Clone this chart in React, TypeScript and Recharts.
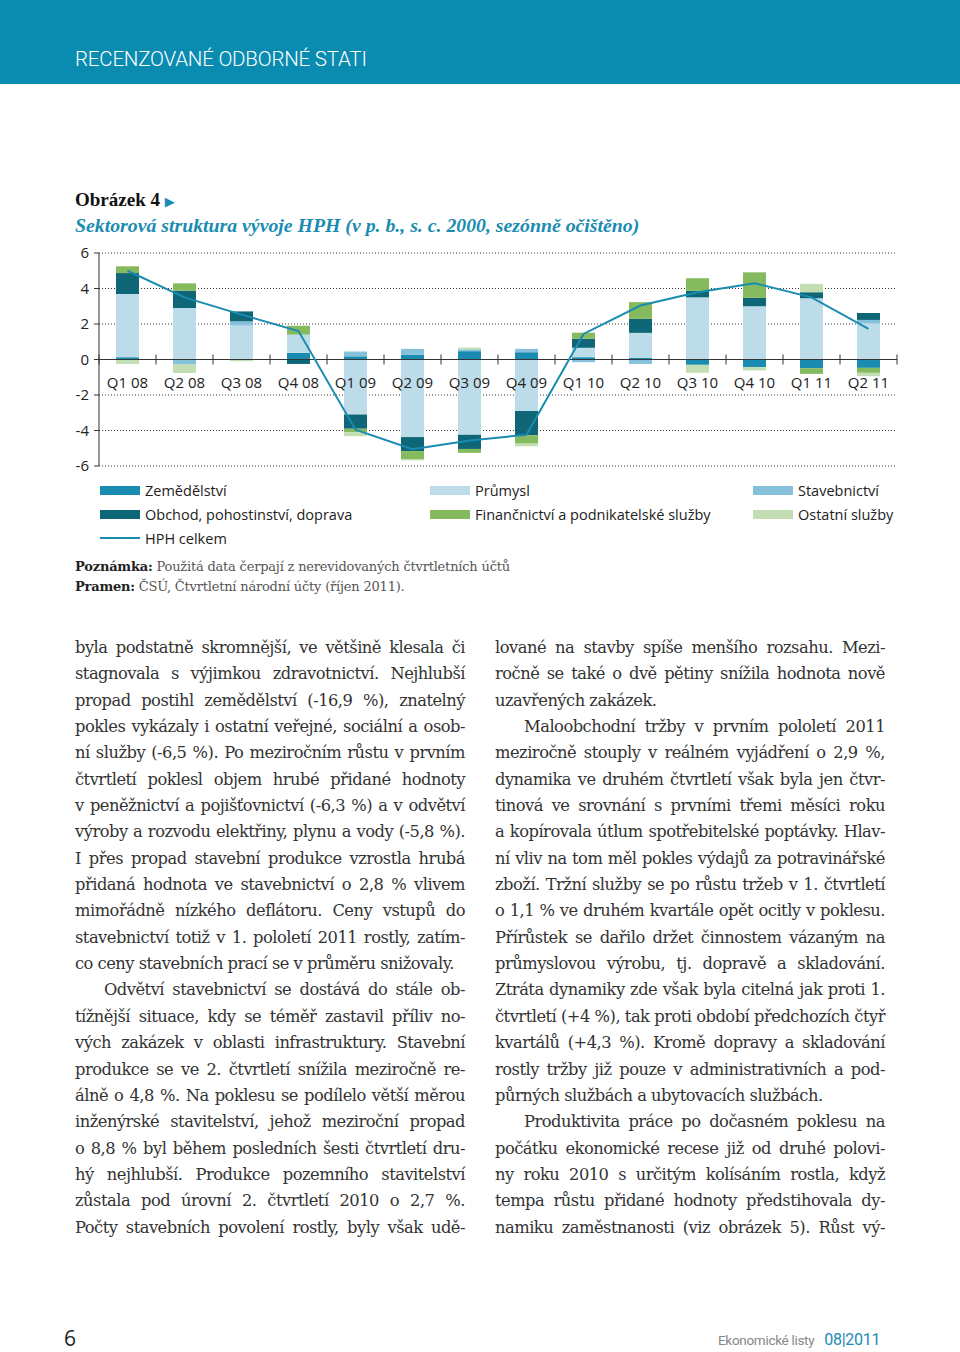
import { ComposedChart, Bar, Line, XAxis, YAxis, CartesianGrid, ReferenceLine } from 'recharts';

const quarters = ['Q1 08', 'Q2 08', 'Q3 08', 'Q4 08', 'Q1 09', 'Q2 09', 'Q3 09', 'Q4 09', 'Q1 10', 'Q2 10', 'Q3 10', 'Q4 10', 'Q1 11', 'Q2 11'];
const zemedelstvi = [0.13, 0, 0, 0.37, 0.18, 0.26, 0.47, 0.41, 0.13, 0.1, -0.3, -0.43, -0.49, -0.47];
const prumysl = [3.56, 2.9, 1.91, 1.03, -3.1, -4.37, -4.24, -2.9, 0.53, 1.4, 3.5, 3.0, 3.45, 2.04];
const stavebnictvi = [0, -0.28, 0.24, 0, 0.27, 0.34, 0.1, 0.19, -0.15, -0.25, 0, 0, 0, 0.19];
const obchod = [1.18, 0.98, 0.56, -0.25, -0.8, -0.79, -0.8, -1.37, 0.51, 0.79, 0.37, 0.47, 0.34, 0.39];
const financnictvi = [0.38, 0.41, 0, 0.5, -0.2, -0.45, -0.22, -0.47, 0.34, 0.94, 0.71, 1.44, -0.32, -0.28];
const ostatni = [-0.25, -0.48, -0.1, 0, -0.22, -0.08, 0.1, -0.15, 0, 0, -0.45, -0.19, 0.47, -0.19];
const hphCelkem = [5.0, 3.5, 2.53, 1.6, -3.96, -5.05, -4.56, -4.24, 1.44, 3.04, 3.79, 4.3, 3.5, 1.73];
const yTicks = [-6, -4, -2, 0, 2, 4, 6];

const series = [
  { key: 'zem', name: 'Zemědělství', values: zemedelstvi, color: '#1a8bb1' },
  { key: 'pru', name: 'Průmysl', values: prumysl, color: '#bcdcea' },
  { key: 'sta', name: 'Stavebnictví', values: stavebnictvi, color: '#86c1dc' },
  { key: 'obc', name: 'Obchod, pohostinství, doprava', values: obchod, color: '#0e6677' },
  { key: 'fin', name: 'Finančnictví a podnikatelské služby', values: financnictvi, color: '#86ba5e' },
  { key: 'ost', name: 'Ostatní služby', values: ostatni, color: '#c4deb3' },
];
const LINE_COLOR = '#1a8cb2';

const data = quarters.map((q, i) => {
  const row: Record<string, string | number> = { q, hph: hphCelkem[i] };
  series.forEach((s) => (row[s.key] = s.values[i]));
  return row;
});

// chart geometry (chart sits at page y=240)
const TOP = 13;
const PLOT_H = 213;
const PLOT_W = 798;
const ZERO = TOP + PLOT_H / 2;
const BAND = PLOT_W / quarters.length;

const sans = '"Open Sans", "Noto Sans", sans-serif';
const serif = '"DejaVu Serif", "Liberation Serif", serif';
const titleSerif = '"Liberation Serif", "DejaVu Serif", serif';
const narrow = '"Liberation Sans Narrow", "Roboto", sans-serif';

function QuarterTick(props: any) {
  const { x, payload, index } = props;
  return (
    <g>
      <line x1={x - BAND / 2} x2={x - BAND / 2} y1={ZERO - 5} y2={ZERO + 5} stroke="#333" />
      {index === quarters.length - 1 && (
        <line x1={x + BAND / 2} x2={x + BAND / 2} y1={ZERO - 5} y2={ZERO + 5} stroke="#333" />
      )}
      <text x={x} y={ZERO + 28} textAnchor="middle" fontSize={15} fill="#222" fontFamily={sans}>
        {payload.value}
      </text>
    </g>
  );
}

const leftLines = [
  { t: 'byla podstatně skromnější, ve většině klesala či' },
  { t: 'stagnovala s výjimkou zdravotnictví. Nejhlubší' },
  { t: 'propad postihl zemědělství (-16,9 %), znatelný' },
  { t: 'pokles vykázaly i ostatní veřejné, sociální a osob-' },
  { t: 'ní služby (-6,5 %). Po meziročním růstu v prvním' },
  { t: 'čtvrtletí poklesl objem hrubé přidané hodnoty' },
  { t: 'v peněžnictví a pojišťovnictví (-6,3 %) a v odvětví' },
  { t: 'výroby a rozvodu elektřiny, plynu a vody (-5,8 %).' },
  { t: 'I přes propad stavební produkce vzrostla hrubá' },
  { t: 'přidaná hodnota ve stavebnictví o 2,8 % vlivem' },
  { t: 'mimořádně nízkého deflátoru. Ceny vstupů do' },
  { t: 'stavebnictví totiž v 1. pololetí 2011 rostly, zatím-' },
  { t: 'co ceny stavebních prací se v průměru snižovaly.', end: true },
  { t: 'Odvětví stavebnictví se dostává do stále ob-', indent: true },
  { t: 'tížnější situace, kdy se téměř zastavil příliv no-' },
  { t: 'vých zakázek v oblasti infrastruktury. Stavební' },
  { t: 'produkce se ve 2. čtvrtletí snížila meziročně re-' },
  { t: 'álně o 4,8 %. Na poklesu se podílelo větší měrou' },
  { t: 'inženýrské stavitelství, jehož meziroční propad' },
  { t: 'o 8,8 % byl během posledních šesti čtvrtletí dru-' },
  { t: 'hý nejhlubší. Produkce pozemního stavitelství' },
  { t: 'zůstala pod úrovní 2. čtvrtletí 2010 o 2,7 %.' },
  { t: 'Počty stavebních povolení rostly, byly však udě-' },
];

const rightLines = [
  { t: 'lované na stavby spíše menšího rozsahu. Mezi-' },
  { t: 'ročně se také o dvě pětiny snížila hodnota nově' },
  { t: 'uzavřených zakázek.', end: true },
  { t: 'Maloobchodní tržby v prvním pololetí 2011', indent: true },
  { t: 'meziročně stouply v reálném vyjádření o 2,9 %,' },
  { t: 'dynamika ve druhém čtvrtletí však byla jen čtvr-' },
  { t: 'tinová ve srovnání s prvními třemi měsíci roku' },
  { t: 'a kopírovala útlum spotřebitelské poptávky. Hlav-' },
  { t: 'ní vliv na tom měl pokles výdajů za potravinářské' },
  { t: 'zboží. Tržní služby se po růstu tržeb v 1. čtvrtletí' },
  { t: 'o 1,1 % ve druhém kvartále opět ocitly v poklesu.' },
  { t: 'Přírůstek se dařilo držet činnostem vázaným na' },
  { t: 'průmyslovou výrobu, tj. dopravě a skladování.' },
  { t: 'Ztráta dynamiky zde však byla citelná jak proti 1.' },
  { t: 'čtvrtletí (+4 %), tak proti období předchozích čtyř' },
  { t: 'kvartálů (+4,3 %). Kromě dopravy a skladování' },
  { t: 'rostly tržby již pouze v administrativních a pod-' },
  { t: 'půrných službách a ubytovacích službách.', end: true },
  { t: 'Produktivita práce po dočasném poklesu na', indent: true },
  { t: 'počátku ekonomické recese již od druhé polovi-' },
  { t: 'ny roku 2010 s určitým kolísáním rostla, když' },
  { t: 'tempa růstu přidané hodnoty předstihovala dy-' },
  { t: 'namiku zaměstnanosti (viz obrázek 5). Růst vý-' },
];

function Column({ lines, left }: { lines: { t: string; end?: boolean; indent?: boolean }[]; left: number }) {
  return (
    <div style={{ position: 'absolute', left, top: 635, width: 390, fontFamily: serif, fontSize: 16.3, letterSpacing: -0.5, color: '#333' }}>
      {lines.map((l, i) => (
        <div
          key={i}
          style={{
            height: 26.35,
            lineHeight: '26.35px',
            whiteSpace: 'nowrap',
            paddingLeft: l.indent ? 29 : 0,
            textAlign: l.end ? 'left' : 'justify',
            textAlignLast: l.end ? 'left' : 'justify',
          }}
        >
          {l.t}
        </div>
      ))}
    </div>
  );
}

const legendCols = [100, 430, 753];

export default function App() {
  return (
    <div style={{ position: 'absolute', left: 0, top: 0, width: 960, height: 1352, background: '#fff', overflow: 'hidden' }}>
      <div style={{ position: 'absolute', left: 0, top: 0, width: 960, height: 84, background: '#0a8bb0' }} />
      <div style={{ position: 'absolute', left: 75, top: 45, fontFamily: narrow, fontSize: 20.5, letterSpacing: -0.2, color: '#fff', lineHeight: '28px', fontWeight: 300 }}>
        RECENZOVANÉ ODBORNÉ STATI
      </div>

      <div style={{ position: 'absolute', left: 75, top: 187, fontFamily: titleSerif, fontSize: 19, fontWeight: 'bold', color: '#111', lineHeight: '26px' }}>
        Obrázek 4 <span style={{ color: '#1a8cb2', fontSize: 13 }}>▶</span>
      </div>
      <div style={{ position: 'absolute', left: 75, top: 212, fontFamily: titleSerif, fontSize: 19.8, fontWeight: 'bold', fontStyle: 'italic', color: '#1a8cb2', lineHeight: '26px', whiteSpace: 'nowrap' }}>
        Sektorová struktura vývoje HPH (v p. b., s. c. 2000, sezónně očištěno)
      </div>

      <div style={{ position: 'absolute', left: 0, top: 240 }}>
        <ComposedChart width={960} height={240} data={data} stackOffset="sign" margin={{ top: TOP, right: 63, bottom: 13, left: 0 }}>
          <CartesianGrid vertical={false} stroke="#333" strokeDasharray="1 2" />
          <XAxis dataKey="q" height={1} axisLine={false} tickLine={false} interval={0} tick={<QuarterTick />} />
          <YAxis
            domain={[-6, 6]}
            ticks={yTicks}
            width={99}
            tickSize={5}
            tickMargin={5}
            axisLine={{ stroke: '#333' }}
            tickLine={{ stroke: '#333' }}
            tick={{ fontSize: 15, fill: '#222', fontFamily: sans }}
          />
          <ReferenceLine y={0} stroke="#333" />
          {series.map((s) => (
            <Bar key={s.key} dataKey={s.key} name={s.name} stackId="a" fill={s.color} barSize={23} isAnimationActive={false} />
          ))}
          <Line dataKey="hph" name="HPH celkem" stroke={LINE_COLOR} strokeWidth={2} dot={false} type="linear" isAnimationActive={false} />
        </ComposedChart>
      </div>

      <div style={{ position: 'absolute', left: 0, top: 478, fontFamily: sans, fontSize: 14.5, color: '#222' }}>
        {series.map((s, i) => {
          const col = i % 3;
          const row = Math.floor(i / 3);
          return (
            <div key={s.key} style={{ position: 'absolute', left: legendCols[col], top: row * 24, display: 'flex', alignItems: 'center', height: 24, whiteSpace: 'nowrap' }}>
              <span style={{ display: 'inline-block', width: 40, height: 9, background: s.color, marginRight: 5 }} />
              {s.name}
            </div>
          );
        })}
        <div style={{ position: 'absolute', left: legendCols[0], top: 48, display: 'flex', alignItems: 'center', height: 24, whiteSpace: 'nowrap' }}>
          <span style={{ display: 'inline-block', width: 40, height: 2, background: LINE_COLOR, marginRight: 5 }} />
          HPH celkem
        </div>
      </div>

      <div style={{ position: 'absolute', left: 75, top: 557, fontFamily: serif, fontSize: 13, letterSpacing: -0.2, color: '#555', lineHeight: '20px', whiteSpace: 'nowrap' }}>
        <div>
          <b style={{ color: '#222' }}>Poznámka:</b> Použitá data čerpají z nerevidovaných čtvrtletních účtů
        </div>
        <div>
          <b style={{ color: '#222' }}>Pramen:</b> ČSÚ, Čtvrtletní národní účty (říjen 2011).
        </div>
      </div>

      <Column lines={leftLines} left={75} />
      <Column lines={rightLines} left={495} />

      <div style={{ position: 'absolute', left: 64, top: 1324, fontFamily: sans, fontSize: 21, color: '#222', lineHeight: '28px' }}>6</div>
      <div style={{ position: 'absolute', left: 718, top: 1330, fontFamily: narrow, fontSize: 13.5, letterSpacing: -0.3, lineHeight: '20px', whiteSpace: 'nowrap' }}>
        <span style={{ color: '#888' }}>Ekonomické listy</span>
        <span style={{ color: '#1a8cb2', marginLeft: 10, fontSize: 16 }}>08|2011</span>
      </div>
    </div>
  );
}
